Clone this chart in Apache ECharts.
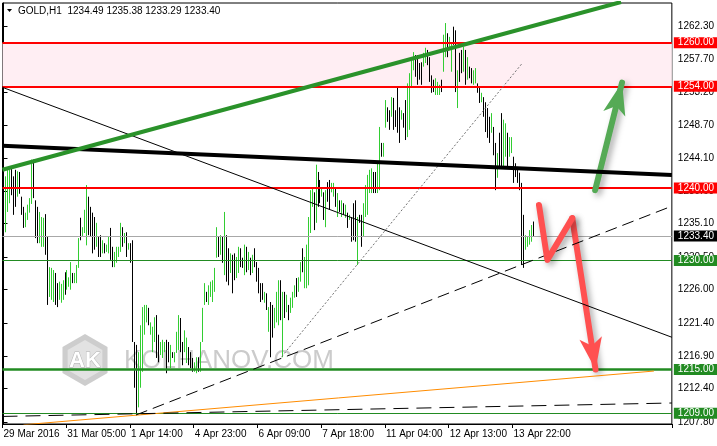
<!DOCTYPE html>
<html><head><meta charset="utf-8">
<script src="https://cdn.jsdelivr.net/npm/echarts@6/dist/echarts.min.js"></script>
<style>html,body{margin:0;padding:0;background:#fff}#c{width:717px;height:446px}</style>
</head><body><div id="c"></div>
<script>
const FONT = "'Liberation Sans',Arial,sans-serif";
const FS = 10;
const symbolName = 'GOLD,H1';
const slotCount = 336;
const firstBarSlot = 1;
const tickEvery = 32;
const tickLabels = ['29 Mar 2016','31 Mar 05:00','1 Apr 14:00','4 Apr 23:00','6 Apr 09:00','7 Apr 18:00','11 Apr 04:00','12 Apr 13:00','13 Apr 22:00'];
const priceTicks = [1207.8,1212.4,1216.9,1221.4,1226.0,1230.5,1235.1,1239.6,1244.1,1248.7,1253.2,1257.7,1262.3];
const priceMin = 1207.51, priceMax = 1265.46;

const opens = [
1234.8,1237.5,1238.6,1242.0,1240.2,1241.8,1239.3,1241.6,1238.5,1236.8,
1235.0,1236.0,1237.1,1238.2,1243.0,1238.0,1235.0,1233.0,1232.5,1232.6,
1235.6,1232.0,1225.6,1225.2,1225.0,1227.8,1226.0,1225.0,1224.7,1225.1,
1227.9,1226.4,1226.6,1226.6,1228.0,1227.2,1227.4,1229.4,1235.2,1233.5,
1234.2,1233.0,1238.2,1236.6,1235.5,1235.4,1232.3,1232.8,1233.0,1231.3,
1232.2,1231.4,1231.4,1233.9,1231.5,1229.5,1230.1,1230.8,1231.7,1234.2,
1232.7,1233.5,1231.7,1232.1,1231.5,1218.5,1213.2,1210.2,1214.0,1216.0,
1220.3,1222.0,1223.2,1220.2,1218.0,1219.3,1221.9,1219.0,1217.3,1217.0,
1217.6,1218.6,1218.3,1215.7,1217.2,1216.3,1217.6,1218.3,1221.6,1218.3,
1217.8,1216.3,1217.8,1217.1,1216.3,1214.9,1214.8,1216.4,1215.1,1219.2,
1224.2,1225.4,1224.3,1225.3,1224.8,1226.1,1230.8,1232.9,1231.2,1232.8,
1230.0,1233.0,1231.0,1228.7,1230.2,1230.5,1228.0,1228.7,1231.4,1230.1,
1228.5,1231.5,1229.0,1230.0,1228.6,1231.3,1229.5,1228.6,1226.5,1226.6,
1224.5,1225.2,1220.6,1223.8,1223.3,1221.0,1222.0,1221.8,1226.9,1218.0,
1225.2,1223.2,1223.5,1223.1,1223.9,1225.2,1227.2,1226.0,1227.4,1231.2,
1226.8,1227.0,1228.0,1234.5,1237.8,1239.0,1235.8,1241.7,1240.6,1239.0,
1239.0,1235.0,1240.4,1240.7,1239.6,1239.1,1239.8,1236.4,1238.0,1236.3,
1237.6,1236.2,1236.3,1235.8,1235.7,1237.4,1237.8,1230.0,1236.0,1235.9,
1233.7,1236.4,1236.8,1239.7,1239.7,1241.8,1241.9,1239.8,1240.2,1246.0,
1244.6,1248.8,1250.8,1250.3,1250.2,1252.0,1250.4,1253.0,1250.6,1249.6,
1250.0,1251.6,1247.5,1248.5,1254.2,1256.6,1258.0,1258.0,1256.9,1257.0,
1257.0,1257.6,1258.7,1257.6,1255.2,1254.6,1253.1,1253.1,1253.1,1254.6,
1256.5,1258.5,1261.0,1259.5,1256.4,1261.8,1261.2,1251.5,1258.2,1258.6,
1256.4,1258.6,1255.3,1256.4,1256.2,1254.5,1254.8,1254.1,1253.6,1252.0,
1252.2,1251.4,1250.6,1249.4,1248.0,1248.0,1245.7,1241.8,1247.1,1249.5,
1243.5,1244.8,1247.1,1244.6,1245.1,1243.9,1243.1,1242.6,1241.8,1240.5,
1231.0,1231.8,1232.1,1232.5,1232.9,1234.49];
const highs = [
1241.6,1242.5,1242.5,1242.6,1241.6,1242.5,1242.3,1242.2,1238.8,1237.4,
1236.6,1237.7,1238.6,1243.9,1243.9,1238.3,1237.4,1236.7,1236.0,1235.9,
1236.4,1233.3,1229.1,1229.0,1228.7,1228.3,1226.9,1227.1,1226.8,1227.3,
1228.4,1228.7,1227.7,1229.8,1228.3,1228.3,1229.4,1233.1,1235.9,1234.6,
1237.0,1240.4,1238.8,1237.4,1236.6,1236.0,1235.2,1233.3,1233.5,1232.8,
1232.4,1232.2,1233.3,1234.5,1231.9,1231.2,1231.9,1231.9,1235.2,1234.6,
1233.8,1233.9,1232.4,1232.4,1232.8,1218.8,1218.4,1217.4,1221.1,1223.6,
1223.9,1223.9,1223.5,1221.5,1220.9,1222.2,1222.5,1219.8,1218.8,1219.1,
1218.8,1219.1,1218.8,1218.4,1217.4,1217.4,1220.2,1222.5,1222.1,1218.8,
1220.4,1219.4,1218.1,1217.4,1216.6,1216.0,1216.7,1216.7,1218.8,1223.5,
1226.9,1225.7,1226.6,1227.1,1227.3,1229.0,1234.6,1233.3,1233.5,1233.3,
1236.7,1233.5,1231.7,1231.0,1230.8,1231.0,1230.5,1231.9,1231.7,1230.4,
1232.2,1231.9,1231.2,1230.4,1230.8,1231.7,1229.8,1229.0,1226.9,1226.9,
1225.7,1225.5,1223.6,1224.3,1223.9,1223.5,1225.7,1227.3,1227.3,1225.7,
1225.7,1225.3,1223.9,1224.9,1225.7,1226.6,1227.6,1227.7,1229.8,1231.7,
1230.5,1232.2,1236.0,1239.7,1240.1,1239.4,1243.2,1242.2,1241.1,1240.1,
1239.4,1239.7,1240.8,1241.1,1240.7,1240.7,1240.1,1239.3,1238.3,1238.3,
1237.9,1237.7,1236.6,1236.3,1236.0,1237.9,1238.3,1236.0,1236.3,1236.3,
1237.9,1240.4,1241.8,1242.5,1242.7,1242.2,1242.2,1243.4,1248.4,1246.2,
1246.2,1252.1,1251.1,1250.7,1252.5,1252.4,1250.7,1253.9,1251.1,1250.7,
1250.3,1252.1,1254.4,1255.8,1257.6,1258.7,1258.3,1258.3,1257.2,1257.3,
1258.6,1259.3,1259.0,1258.0,1255.5,1254.9,1255.1,1254.6,1254.2,1254.9,
1261.1,1262.7,1261.3,1260.8,1260.0,1262.2,1261.7,1256.2,1258.6,1259.0,
1259.4,1259.0,1258.0,1256.7,1256.5,1256.2,1256.5,1254.4,1253.9,1253.1,
1252.5,1251.8,1251.0,1249.8,1250.3,1248.4,1246.2,1244.8,1247.6,1250.3,
1249.4,1248.9,1247.6,1247.0,1247.0,1244.3,1243.4,1242.9,1242.1,1240.7,
1236.3,1233.5,1233.3,1234.2,1234.9,1235.38];
const lows = [
1233.9,1236.7,1237.9,1239.0,1236.3,1237.4,1238.8,1239.2,1236.3,1234.5,
1234.6,1235.6,1236.6,1237.8,1238.6,1233.1,1232.4,1232.4,1231.9,1231.9,
1230.8,1223.9,1225.0,1224.6,1224.3,1223.9,1223.6,1224.6,1224.2,1224.6,
1225.3,1226.0,1226.4,1226.0,1226.9,1226.9,1226.9,1229.0,1232.8,1233.3,
1233.8,1232.1,1233.5,1233.3,1231.0,1231.5,1231.9,1230.5,1230.5,1231.0,
1231.0,1231.2,1231.0,1230.1,1229.1,1229.1,1229.7,1230.5,1231.2,1231.9,
1232.4,1230.5,1231.5,1229.7,1218.8,1212.5,1208.8,1209.8,1212.5,1214.7,
1219.8,1221.5,1221.1,1219.8,1217.4,1218.8,1216.6,1216.0,1217.0,1216.6,
1217.4,1214.5,1216.0,1215.2,1216.6,1216.0,1217.3,1217.7,1217.4,1215.6,
1217.4,1215.9,1215.6,1215.2,1214.7,1214.7,1214.5,1214.7,1214.7,1218.8,
1223.9,1224.3,1223.9,1225.0,1224.3,1225.7,1230.4,1230.5,1230.8,1229.7,
1228.0,1227.1,1226.6,1228.3,1225.5,1227.3,1227.6,1228.3,1229.1,1229.0,
1228.0,1228.4,1228.7,1228.0,1228.3,1229.1,1227.1,1225.5,1224.3,1224.6,
1224.2,1223.2,1220.2,1216.7,1219.4,1220.7,1221.5,1221.1,1221.8,1216.7,
1222.1,1222.9,1221.8,1222.8,1223.5,1224.9,1225.0,1225.7,1227.1,1228.4,
1226.2,1226.2,1226.6,1233.8,1237.4,1234.2,1235.2,1237.4,1237.9,1238.8,
1235.6,1234.6,1238.1,1237.0,1239.4,1238.8,1237.4,1236.0,1236.7,1236.0,
1236.3,1235.9,1234.5,1235.6,1232.6,1232.8,1232.6,1229.4,1235.2,1231.9,
1233.3,1236.0,1236.3,1239.3,1239.3,1239.3,1239.3,1239.3,1239.7,1244.3,
1244.3,1248.3,1249.1,1248.0,1249.8,1248.0,1248.4,1247.6,1246.2,1249.4,
1248.3,1246.6,1247.0,1248.0,1253.8,1256.2,1255.3,1254.2,1254.9,1254.2,
1256.7,1257.2,1256.9,1254.6,1253.1,1253.2,1252.8,1252.8,1252.8,1253.2,
1256.0,1258.0,1258.0,1259.3,1256.0,1259.7,1253.2,1251.0,1254.6,1255.8,
1256.0,1254.2,1254.9,1255.1,1254.4,1254.2,1254.4,1253.1,1251.7,1251.8,
1249.8,1247.7,1246.9,1246.2,1247.6,1244.5,1239.7,1241.4,1242.9,1242.9,
1242.9,1244.3,1242.9,1244.3,1244.8,1240.7,1241.5,1240.7,1239.7,1229.4,
1229.0,1231.5,1231.9,1232.2,1232.6,1233.29];
const closes = [
1240.9,1241.8,1241.9,1239.6,1236.9,1238.0,1241.7,1239.6,1236.7,1235.0,
1236.2,1237.3,1238.3,1242.9,1239.1,1233.6,1232.9,1236.0,1235.2,1235.3,
1231.5,1225.0,1228.6,1228.3,1228.0,1224.5,1224.0,1226.6,1226.3,1226.9,
1225.8,1228.2,1227.4,1229.2,1227.2,1228.0,1229.0,1232.6,1233.2,1234.3,
1236.5,1238.8,1234.3,1233.8,1231.6,1232.0,1234.7,1230.9,1230.8,1232.5,
1231.2,1232.0,1232.9,1230.6,1229.5,1230.8,1231.5,1231.6,1234.6,1232.3,
1233.5,1230.9,1232.2,1230.1,1219.5,1213.0,1210.0,1216.5,1220.0,1222.5,
1223.2,1223.4,1221.6,1221.2,1220.3,1221.7,1217.3,1216.6,1218.5,1218.6,
1218.5,1215.0,1216.5,1218.0,1216.8,1217.1,1219.8,1221.8,1218.0,1216.0,
1220.0,1219.0,1216.0,1215.6,1215.0,1215.8,1216.3,1215.0,1218.3,1222.9,
1226.4,1224.6,1226.2,1226.7,1226.9,1228.6,1234.0,1230.9,1233.1,1230.2,
1235.0,1227.8,1227.2,1230.6,1226.1,1227.8,1230.1,1231.4,1229.5,1229.3,
1231.7,1228.9,1230.8,1228.4,1230.4,1229.5,1227.5,1226.0,1224.7,1225.0,
1225.4,1223.6,1223.2,1217.5,1219.9,1223.1,1225.2,1226.7,1222.3,1225.0,
1222.5,1224.9,1222.2,1224.5,1225.3,1226.3,1225.4,1227.4,1229.4,1228.8,
1230.0,1231.5,1235.0,1239.0,1239.7,1234.8,1242.0,1238.0,1238.3,1239.9,
1236.0,1239.2,1238.5,1237.4,1240.4,1240.4,1237.8,1238.9,1237.0,1238.0,
1236.6,1237.4,1234.9,1236.1,1233.0,1233.3,1233.1,1235.2,1235.4,1232.4,
1237.4,1239.9,1241.2,1242.0,1242.3,1239.7,1239.6,1243.0,1247.5,1244.6,
1245.9,1251.6,1249.5,1248.4,1252.1,1248.5,1248.8,1248.2,1246.7,1250.5,
1248.6,1247.1,1253.8,1255.1,1257.1,1258.3,1255.7,1254.6,1255.2,1254.6,
1258.3,1258.9,1257.3,1255.0,1253.5,1253.5,1254.8,1254.3,1253.9,1253.5,
1260.4,1262.0,1258.4,1260.6,1259.6,1260.0,1254.0,1255.7,1255.0,1256.2,
1259.0,1254.6,1257.6,1255.4,1254.8,1255.9,1256.1,1253.4,1252.1,1252.9,
1250.2,1248.2,1247.3,1246.6,1249.9,1245.0,1240.5,1244.3,1243.4,1243.5,
1248.7,1248.4,1243.4,1246.6,1246.7,1241.1,1241.8,1241.0,1240.0,1230.5,
1229.8,1233.2,1233.0,1233.9,1234.5,1233.40];

// horizontal levels
const resistanceLevels = [1260, 1254, 1240];
const zoneBand = [1254, 1260];
const supportLevels = [1230, 1215, 1209];
const thickSupport = 1215;

// annotation anchors: [bar slot, price]
const greenTrend = [[-0.5, 1242.5], [310, 1265.6]];
const blackTrend = [[-0.5, 1245.8], [335.5, 1241.8]];
const thinTrend = [[-0.5, 1253.85], [335.5, 1219.45]];
const dashTrend = [[66.5, 1208.75], [335.5, 1237.5]];
const dotTrend = [[139.7, 1216.8], [260.5, 1257.2]];
const lowDashTrend = [[-0.5, 1208.55], [335.5, 1210.4]];
const orangeTrend = [[10, 1207.4], [326.5, 1214.8]];
const upArrow = [[297, 1239.7], [310.5, 1254.5]];
const downPath = [[268.8, 1237.65], [273, 1230.1], [285.5, 1235.85], [297.2, 1215.0]];

const categories = Array.from({length: slotCount}, (_, i) => String(i));
const candleData = categories.map((_, i) => {
  const k = i - firstBarSlot;
  return (k >= 0 && k < opens.length) ? [opens[k], closes[k], lows[k], highs[k]] : '-';
});
const last = opens.length - 1;
const current = closes[last];
const fmt = v => v.toFixed(2);

function tag(bg) {
  return { show: true, position: 'end', distance: 2, formatter: p => fmt(p.value),
    color: '#fff', backgroundColor: bg, padding: [1, 4, 0, 4], fontSize: FS,
    fontFamily: FONT, lineHeight: 10 };
}
const tickShow = (i) => i % tickEvery === 0 && (i / tickEvery) < tickLabels.length;

function lineSeries(data, style, z) {
  return { type: 'line', xAxisIndex: 1, yAxisIndex: 0, data, symbol: 'none', silent: true,
    animation: false, z: z || 5, lineStyle: style, clip: true };
}
const shadow = { shadowBlur: 6, shadowColor: 'rgba(0,0,0,0.35)', shadowOffsetX: 3, shadowOffsetY: 3 };

// hexagon logo
const hc = [85, 360];
function hex(r) {
  const pts = [];
  for (let j = 0; j < 6; j++) { const a = Math.PI / 180 * (60 * j - 90); pts.push([hc[0] + r * Math.cos(a), hc[1] + r * Math.sin(a)]); }
  return pts;
}

const chart = echarts.init(document.getElementById('c'), null, { renderer: 'canvas' });
chart.setOption({
  animation: false,
  backgroundColor: '#fff',
  grid: { left: 2.5, top: 3, width: 672, bottom: 22, show: true, borderColor: '#000', borderWidth: 1, backgroundColor: '#fff' },
  xAxis: [{
    type: 'category', data: categories, boundaryGap: true,
    axisLine: { show: true, lineStyle: { color: '#000', width: 1 } },
    axisTick: { show: true, interval: tickShow, length: 4, lineStyle: { color: '#000' } },
    axisLabel: { show: true, interval: tickShow, formatter: (v, i) => tickLabels[i / tickEvery] || '',
      align: 'left', margin: 5, color: '#000', fontSize: FS, fontFamily: FONT },
    splitLine: { show: false }
  }, {
    type: 'value', min: -0.5, max: slotCount - 0.5, show: false
  }],
  yAxis: [{
    type: 'value', position: 'right', min: priceMin, max: priceMax, scale: true,
    axisLine: { show: true, lineStyle: { color: '#000', width: 1 } },
    axisTick: { show: true, customValues: priceTicks, length: 4, lineStyle: { color: '#000' } },
    axisLabel: { show: true, customValues: priceTicks, formatter: v => fmt(v), margin: 6,
      color: '#000', fontSize: FS, fontFamily: FONT },
    splitLine: { show: false }
  }],
  graphic: [
    { type: 'polygon', z: 1, shape: { points: hex(26) }, style: { fill: '#cdcdcd' } },
    { type: 'polygon', z: 1, shape: { points: hex(20) }, style: { fill: '#e2e2e2' } },
    { type: 'text', z: 1, x: hc[0], y: hc[1] + 1, style: { text: 'AK', fill: '#fff', stroke: '#b4b4b4', lineWidth: 1,
      font: 'bold 22px "Liberation Sans", Arial, sans-serif', align: 'center', verticalAlign: 'middle' } },
    { type: 'text', z: 1, x: 124, y: 361, style: { text: 'KOLHANOV.COM', fill: '#cbcbcb',
      font: '26px "Liberation Sans", Arial, sans-serif', verticalAlign: 'middle' } },
    { type: 'polygon', z: 20, shape: { points: [[7, 9], [12, 9], [9.5, 12]] }, style: { fill: '#000' } },
    { type: 'text', z: 20, x: 18, y: 11, style: {
      text: symbolName + '  ' + [opens[last], highs[last], lows[last], closes[last]].map(fmt).join(' '),
      fill: '#000', font: FS + 'px ' + FONT, verticalAlign: 'middle' } }
  ],
  series: [
    { type: 'line', xAxisIndex: 1, yAxisIndex: 0, data: [], z: 1, silent: true, animation: false,
      markArea: { silent: true, itemStyle: { color: '#ffeef3' },
        data: [[{ yAxis: zoneBand[1] }, { yAxis: zoneBand[0] }]] } },
    { type: 'candlestick', xAxisIndex: 0, yAxisIndex: 0, data: candleData, z: 2, barWidth: 1,
      silent: true, animation: false,
      itemStyle: { color: '#32cd32', color0: '#000', borderColor: '#32cd32', borderColor0: '#000', borderWidth: 1 } },
    lineSeries(orangeTrend, { color: '#ff8c00', width: 1 }),
    lineSeries(lowDashTrend, { color: '#000', width: 1, type: [15, 8] }),
    lineSeries(dashTrend, { color: '#000', width: 1, type: [12, 6] }),
    lineSeries(dotTrend, { color: '#707070', width: 1, type: [2, 2] }),
    lineSeries(thinTrend, { color: '#000', width: 1 }),
    lineSeries(blackTrend, { color: '#000', width: 4 }),
    lineSeries(greenTrend, { color: '#2a922a', width: 4 }),
    { type: 'line', xAxisIndex: 1, yAxisIndex: 0, data: [], z: 6, silent: true, animation: false, clip: false,
      markLine: { silent: true, symbol: 'none', animation: false,
        data: [
          ...resistanceLevels.map(v => ({ yAxis: v, lineStyle: { color: '#ff0000', width: 2, type: 'solid' }, label: tag('#ff0000') })),
          { yAxis: current, lineStyle: { color: '#a8a8a8', width: 1, type: 'solid' }, label: tag('#000000') },
          ...supportLevels.map(v => ({ yAxis: v, lineStyle: { color: '#228b22', width: v === thickSupport ? 2.5 : 1, type: 'solid' }, label: tag('#228b22') }))
        ] } },
    { type: 'line', xAxisIndex: 1, yAxisIndex: 0, data: downPath.slice(0, 3), z: 7, symbol: 'none', silent: true,
      animation: false, lineStyle: Object.assign({ color: '#ff5050', width: 6, cap: 'round', join: 'round' }, shadow),
      markLine: { silent: true, animation: false, symbol: ['none', 'arrow'], symbolSize: [17, 32],
        lineStyle: Object.assign({ color: '#ff5050', width: 6, type: 'solid', cap: 'round' }, shadow),
        label: { show: false },
        data: [[{ coord: downPath[2] }, { coord: downPath[3] }]] } },
    { type: 'line', xAxisIndex: 1, yAxisIndex: 0, data: [], z: 7, silent: true, animation: false,
      markLine: { silent: true, animation: false, symbol: ['none', 'arrow'], symbolSize: [17, 32],
        lineStyle: Object.assign({ color: '#55aa55', width: 6, type: 'solid', cap: 'round' }, shadow),
        label: { show: false },
        data: [[{ coord: upArrow[0] }, { coord: upArrow[1] }]] } }
  ]
});
</script>
</body></html>
